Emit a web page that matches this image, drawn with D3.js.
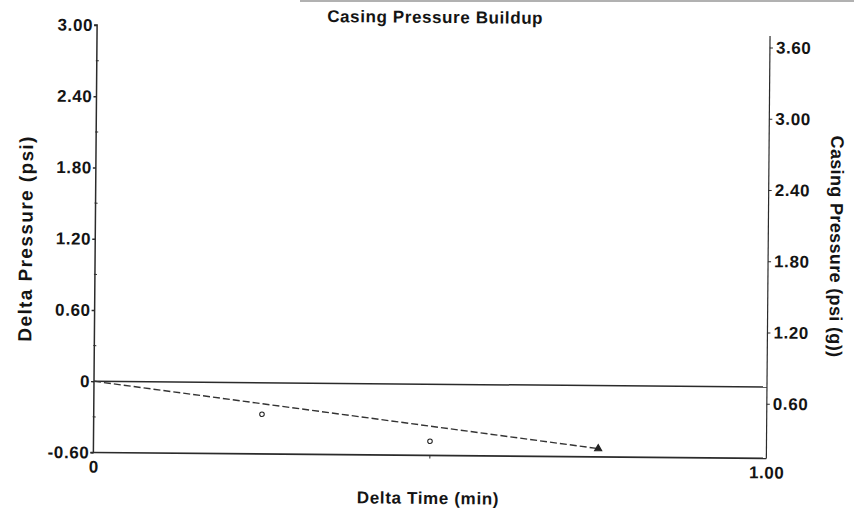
<!DOCTYPE html>
<html><head><meta charset="utf-8">
<script src="https://cdn.jsdelivr.net/npm/d3@7/dist/d3.min.js"></script>
<style>
html,body{margin:0;padding:0;background:#fff;}
svg text{font-family:"Liberation Sans",Arial,sans-serif;font-weight:bold;fill:#141414;}
</style></head>
<body><svg id="c" width="854" height="514"></svg>
<script>
// Data
const deltaTime = [0.25, 0.50, 0.75];          // min
const deltaPressure = [-0.265, -0.48, -0.53];  // psi
const markerShape = ["circle", "circle", "triangle"];
const trendTime = [0, 0.75];
const trendPressure = [0, -0.53];
const leftTicks = [-0.60, 0, 0.60, 1.20, 1.80, 2.40, 3.00];
const leftTickLabels = ["-0.60", "0", "0.60", "1.20", "1.80", "2.40", "3.00"];
const rightTicks = [0.60, 1.20, 1.80, 2.40, 3.00, 3.60];
const xTicks = [0, 1.00];
const xTickLabels = ["0", "1.00"];
const initialCasing = 0.74;

const svg = d3.select("#c");
const L = 94, R = 767, T = 25, B = 452.5;
const x = d3.scaleLinear().domain([0, 1]).range([L, R]);
const yL = d3.scaleLinear().domain([-0.6, 3.0]).range([B, T]);
const yR = d3.scaleLinear().domain([-0.6 + initialCasing, 3.0 + initialCasing]).range([B, T]);

const ink = "#2b2b2b";
const tickFont = sel => sel.attr("font-size", 17).attr("letter-spacing", "0.6px")
  .attr("font-family", "Liberation Sans").attr("font-weight", "bold").attr("fill", "#141414");

// scan artifact top bar
svg.append("line").attr("x1", 300).attr("x2", 854).attr("y1", 1).attr("y2", 1)
  .attr("stroke", "#666").attr("stroke-width", 2).attr("opacity", 0.5);

// whole page slightly rotated like the scan
const g = svg.append("g").attr("transform", `rotate(0.5,${L},${yL(0)})`);

// Title
g.append("text").attr("x", 432).attr("y", 20).attr("text-anchor", "middle")
  .attr("font-size", 17).attr("letter-spacing", "0.6px").text("Casing Pressure Buildup");

// Left axis
const gL = g.append("g").attr("transform", `translate(${L},0)`)
  .call(d3.axisLeft(yL).tickValues(leftTicks).tickSize(3).tickPadding(1)
    .tickFormat((d, i) => leftTickLabels[i]));
gL.select(".domain").attr("stroke", ink).attr("stroke-width", 1.5).attr("d", `M-3,${T}H0V${B}H-3`);
gL.selectAll(".tick line").attr("stroke", ink).attr("stroke-width", 1.3);
gL.selectAll(".tick text").call(tickFont);
// minor ticks left
g.append("g").selectAll("line").data(d3.range(-0.3, 3.0, 0.6)).join("line")
  .attr("x1", L - 1).attr("x2", L + 2).attr("y1", d => yL(d)).attr("y2", d => yL(d))
  .attr("stroke", ink).attr("stroke-width", 1);

// Right axis
const gR = g.append("g").attr("transform", `translate(${R},0)`)
  .call(d3.axisRight(yR).tickValues(rightTicks).tickSize(3).tickPadding(3).tickFormat(d3.format(".2f")));
gR.select(".domain").attr("stroke", ink).attr("stroke-width", 1.2).attr("d", `M0,30V${B}`);
gR.selectAll(".tick line").attr("stroke", ink);
gR.selectAll(".tick text").call(tickFont);

// Bottom axis
const gB = g.append("g").attr("transform", `translate(0,${B})`)
  .call(d3.axisBottom(x).tickValues(xTicks).tickSize(0).tickPadding(8)
    .tickFormat((d, i) => xTickLabels[i]));
gB.select(".domain").attr("stroke", ink).attr("stroke-width", 1.6).attr("d", `M${L},0H${R}`);
gB.selectAll(".tick text").call(tickFont);
g.append("line").attr("x1", x(0.5)).attr("x2", x(0.5)).attr("y1", B).attr("y2", B + 3).attr("stroke", ink);

// zero line
g.append("line").attr("x1", L).attr("x2", R).attr("y1", yL(0)).attr("y2", yL(0))
  .attr("stroke", ink).attr("stroke-width", 1.5);

// trend dashed line
g.append("path").datum(trendTime.map((t, i) => [t, trendPressure[i]]))
  .attr("d", d3.line().x(d => x(d[0])).y(d => yL(d[1])))
  .attr("fill", "none").attr("stroke", "#333").attr("stroke-width", 1.4).attr("stroke-dasharray", "7,3");

// markers
const pts = deltaTime.map((t, i) => ({t, p: deltaPressure[i], s: markerShape[i]}));
g.append("g").selectAll("path").data(pts).join("path")
  .attr("transform", d => `translate(${x(d.t)},${yL(d.p)})`)
  .attr("d", d => d.s === "circle" ? d3.symbol(d3.symbolCircle, 16)() : d3.symbol(d3.symbolTriangle, 22)())
  .attr("fill", d => d.s === "circle" ? "none" : "#222")
  .attr("stroke", "#222").attr("stroke-width", 1.1);

// axis titles
g.append("text").attr("transform", "translate(31,239) rotate(-90)").attr("text-anchor", "middle")
  .attr("font-size", 19).attr("letter-spacing", "1.4px").text("Delta Pressure (psi)");
g.append("text").attr("transform", "translate(829,240) rotate(90)").attr("text-anchor", "middle")
  .attr("font-size", 18).attr("letter-spacing", "0.35px").text("Casing Pressure (psi (g))");
g.append("text").attr("x", 429).attr("y", 501).attr("text-anchor", "middle")
  .attr("font-size", 17).attr("letter-spacing", "0.65px").text("Delta Time (min)");
</script></body></html>
